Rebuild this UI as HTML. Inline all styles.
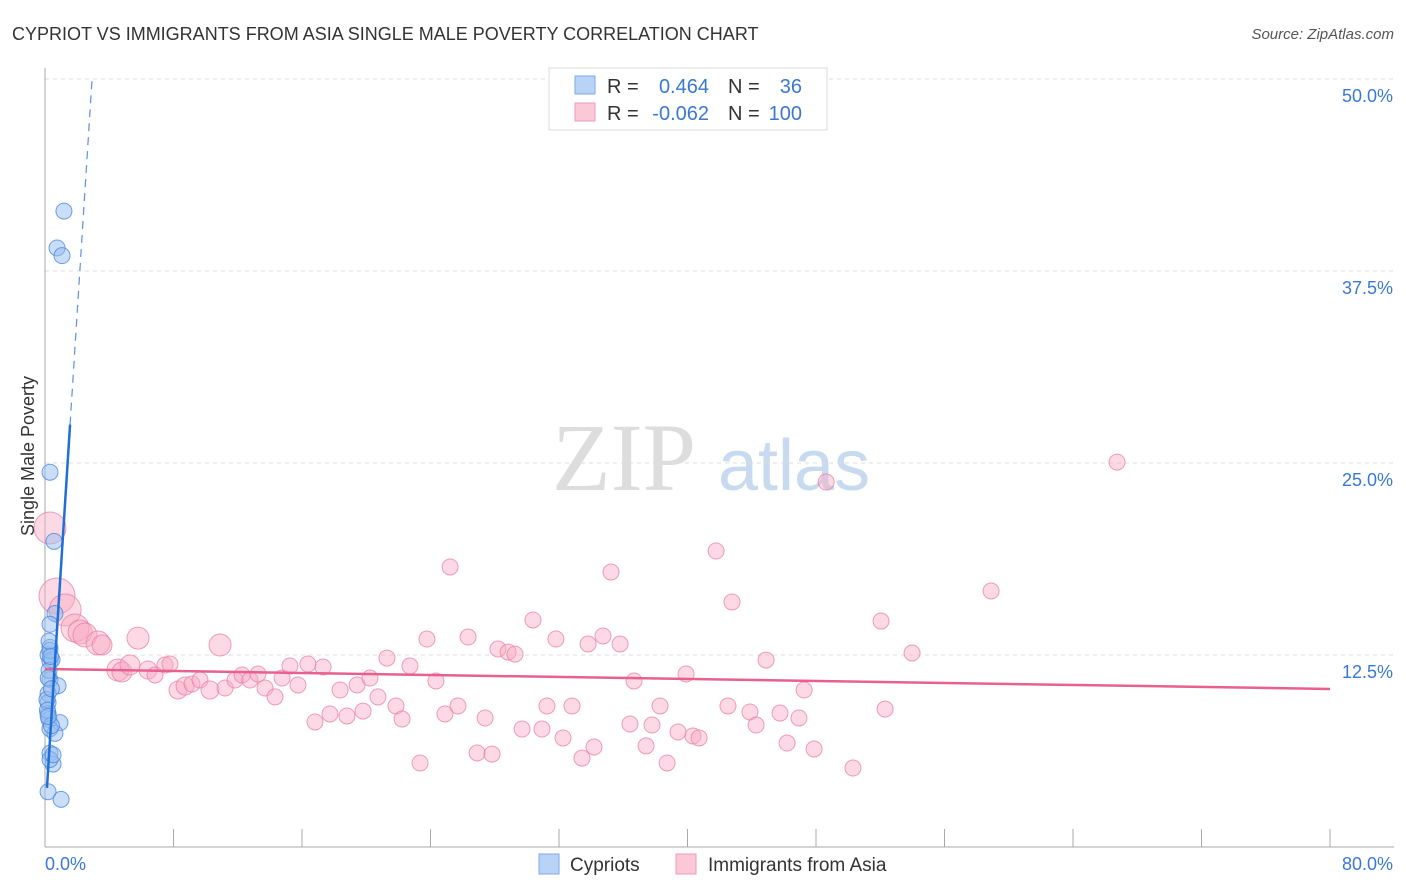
<!DOCTYPE html>
<html><head><meta charset="utf-8">
<style>
body{margin:0;background:#fff;font-family:"Liberation Sans",sans-serif;}
svg{display:block}
</style></head>
<body>
<svg id="chart" width="1406" height="892" xmlns="http://www.w3.org/2000/svg">
<text x="12" y="40" font-size="18" fill="#333">CYPRIOT VS IMMIGRANTS FROM ASIA SINGLE MALE POVERTY CORRELATION CHART</text>
<text x="1394" y="39" font-size="15" fill="#555" font-style="italic" text-anchor="end">Source: ZipAtlas.com</text>
<g>
<text x="552" y="490" font-size="96" fill="#ddd" font-family="Liberation Serif,serif">ZIP</text>
<text x="718" y="490" font-size="72" fill="#c8daf0">atlas</text>
</g>
<g id="grid"></g>
<g id="axes"></g>
<g id="pinkpts"></g>
<g id="bluepts"></g>
<g id="lines"></g>
<text transform="translate(34,456) rotate(-90)" font-size="18" fill="#333" text-anchor="middle">Single Male Poverty</text>
<g>
<rect x="549" y="68" width="278" height="62" fill="#fff" stroke="#ddd"/>
<rect x="575" y="76" width="20" height="18" fill="#b8d3f5" stroke="#7fa9e6"/>
<rect x="575" y="103" width="20" height="18" fill="#fbc8d8" stroke="#ef9ab5"/>
<text x="607" y="93" font-size="20" fill="#333">R =</text>
<text x="709" y="93" font-size="20" fill="#3a78d4" text-anchor="end">0.464</text>
<text x="728" y="93" font-size="20" fill="#333">N =</text>
<text x="802" y="93" font-size="20" fill="#3a78d4" text-anchor="end">36</text>
<text x="607" y="120" font-size="20" fill="#333">R =</text>
<text x="709" y="120" font-size="20" fill="#3a78d4" text-anchor="end">-0.062</text>
<text x="728" y="120" font-size="20" fill="#333">N =</text>
<text x="802" y="120" font-size="20" fill="#3a78d4" text-anchor="end">100</text>
</g>
<g>
<rect x="539" y="854" width="20" height="20" fill="#b8d3f5" stroke="#7fa9e6"/>
<text x="570" y="871" font-size="19" fill="#333">Cypriots</text>
<rect x="676" y="854" width="20" height="20" fill="#fbc8d8" stroke="#ef9ab5"/>
<text x="708" y="871" font-size="19" fill="#333">Immigrants from Asia</text>
</g>
</svg>
<script>
const blueX=[1.18,0.75,1.06,0.31,0.56,0.62,0.31,0.31,0.19,0.31,0.31,0.81,0.19,0.19,0.19,0.25,0.93,0.31,0.62,0.31,0.5,0.19,1.0,0.31,0.44,0.25,0.12,0.3,0.2,0.4,0.15,0.35,0.5,0.25,0.4,0.2];
const blueY=[41.4,39.0,38.5,24.4,19.9,15.2,14.5,13.0,12.5,12.1,10.9,10.5,10.0,9.4,8.7,8.3,8.1,7.7,7.4,6.1,5.4,3.6,3.1,5.7,12.2,11.5,9.6,12.8,11.0,7.9,8.9,12.4,6.0,13.4,10.3,8.5];
const pinkX=[0.31,0.75,1.25,1.87,2.18,2.49,3.3,3.55,5.79,10.9,4.54,4.79,5.29,6.41,6.85,7.47,7.78,8.28,8.72,9.15,9.65,10.27,11.21,11.83,12.27,12.76,13.26,13.7,14.32,14.76,15.25,15.75,16.37,17.31,16.81,17.74,18.37,18.8,19.43,19.8,20.23,20.73,21.29,21.85,22.23,22.72,23.35,23.78,24.34,24.9,25.22,25.71,26.34,26.9,27.4,27.83,28.2,28.83,29.26,29.7,30.38,30.94,31.25,31.81,32.25,32.81,33.43,33.81,34.18,34.74,35.24,35.8,36.42,36.67,37.42,37.79,38.29,38.73,39.41,39.91,40.34,40.72,41.78,42.52,42.77,43.89,44.27,44.89,45.76,46.2,46.94,47.26,47.88,48.63,50.3,52.05,52.3,53.98,58.9,66.74];
const pinkY=[20.77,16.34,15.43,14.26,14.0,13.8,13.28,13.15,13.6,13.15,11.52,11.39,11.85,11.52,11.2,11.85,11.91,10.22,10.48,10.61,10.87,10.22,10.35,10.87,11.2,10.87,11.26,10.35,9.77,11.0,11.78,10.55,11.91,11.72,8.14,8.66,10.22,8.53,10.55,8.85,11.0,9.77,12.3,9.18,8.33,11.78,5.47,13.54,10.81,8.66,18.23,9.18,13.67,6.12,8.4,6.05,12.89,12.69,12.56,7.68,14.78,7.68,9.18,13.54,7.1,9.18,5.79,13.22,6.51,13.74,17.9,13.22,8.01,10.81,6.58,7.94,9.18,5.47,7.49,11.26,7.23,7.1,19.27,9.18,15.95,8.79,7.94,12.17,8.72,6.77,8.4,10.22,6.38,23.76,5.14,14.71,8.98,12.63,16.67,25.06];
const pinkR=[16,18,16,14,12,12,12,10,11,11,11,10,10,9,8,8,8,9,9,8,8,9,8,8,8,8,8,8,8,8,8,8,8,8,8,8,8,8,8,8,8,8,8,8,8,8,8,8,8,8,8,8,8,8,8,8,8,8,8,8,8,8,8,8,8,8,8,8,8,8,8,8,8,8,8,8,8,8,8,8,8,8,8,8,8,8,8,8,8,8,8,8,8,8,8,8,8,8,8,8];
const yTicks=[12.5,25.0,37.5,50.0];
const xTickLabels=["0.0%","80.0%"];
const pinkTrend=[11.59,10.29];
const blueTrend=[0.4,27.5,7.5,50.0];

const NS="http://www.w3.org/2000/svg";
const X=v=>45+v/80*1285;
const Y=v=>847-v/12.5*192;
function mk(tag,attrs,parent){const e=document.createElementNS(NS,tag);for(const k in attrs)e.setAttribute(k,attrs[k]);parent.appendChild(e);return e;}

const grid=document.getElementById('grid');
yTicks.forEach(t=>{
  const l=mk('line',{x1:45,x2:1394,y1:Y(t),y2:Y(t),stroke:'#ddd','stroke-dasharray':'4,4'},grid);
  
  
  const tx=mk('text',{x:1393,y:Y(t)+23,'font-size':18,fill:'#3a78d4','text-anchor':'end'},grid);
  tx.textContent=t.toFixed(1)+'%';
  
  
});
const axes=document.getElementById('axes');
mk('line',{x1:45,x2:45,y1:68,y2:847,stroke:'#aaa'},axes);
mk('line',{x1:45,x2:1394,y1:847,y2:847,stroke:'#aaa'},axes);
for(let i=0;i<=10;i++){
  const t=mk('line',{x1:X(i*8),x2:X(i*8),y1:829,y2:847,stroke:'#aaa'},axes);
  
  
}
const xl0=mk('text',{x:45,y:870,'font-size':18,fill:'#3a78d4'},axes);
xl0.textContent=xTickLabels[0];


const xl1=mk('text',{x:1393,y:870,'font-size':18,fill:'#3a78d4','text-anchor':'end'},axes);
xl1.textContent=xTickLabels[1];



const pg=document.getElementById('pinkpts');
pinkX.forEach((x,i)=>{
  const c=mk('circle',{cx:X(x),cy:Y(pinkY[i]),r:pinkR[i],fill:'rgba(248,170,195,0.45)',stroke:'rgba(232,120,160,0.7)','stroke-width':1},pg);
  
  
});
const bg=document.getElementById('bluepts');
blueX.forEach((x,i)=>{
  const c=mk('circle',{cx:X(x),cy:Y(blueY[i]),r:8,fill:'rgba(150,190,240,0.5)',stroke:'rgba(70,130,220,0.75)','stroke-width':1},bg);
  
  
});
const lg=document.getElementById('lines');
const pl=mk('line',{x1:X(0),y1:Y(pinkTrend[0]),x2:X(80),y2:Y(pinkTrend[1]),stroke:'#e8608f','stroke-width':2.5},lg);


// blue trend: x0,xSolidEnd, y at x0, y at dashed end
const bx0=0.12, bx1=1.56, bx2=2.93;
const slope=(blueTrend[3]-blueTrend[1])/(bx2-bx1);
const by0=blueTrend[1]-slope*(bx1-bx0);
const bl=mk('line',{x1:X(bx0),y1:Y(by0),x2:X(bx1),y2:Y(blueTrend[1]),stroke:'#1f6fd6','stroke-width':2.5},lg);


const bd=mk('line',{x1:X(bx1),y1:Y(blueTrend[1]),x2:X(bx2),y2:Y(blueTrend[3]),stroke:'#5a90dd','stroke-width':1.2,'stroke-dasharray':'8,6'},lg);


</script>
</body></html>
